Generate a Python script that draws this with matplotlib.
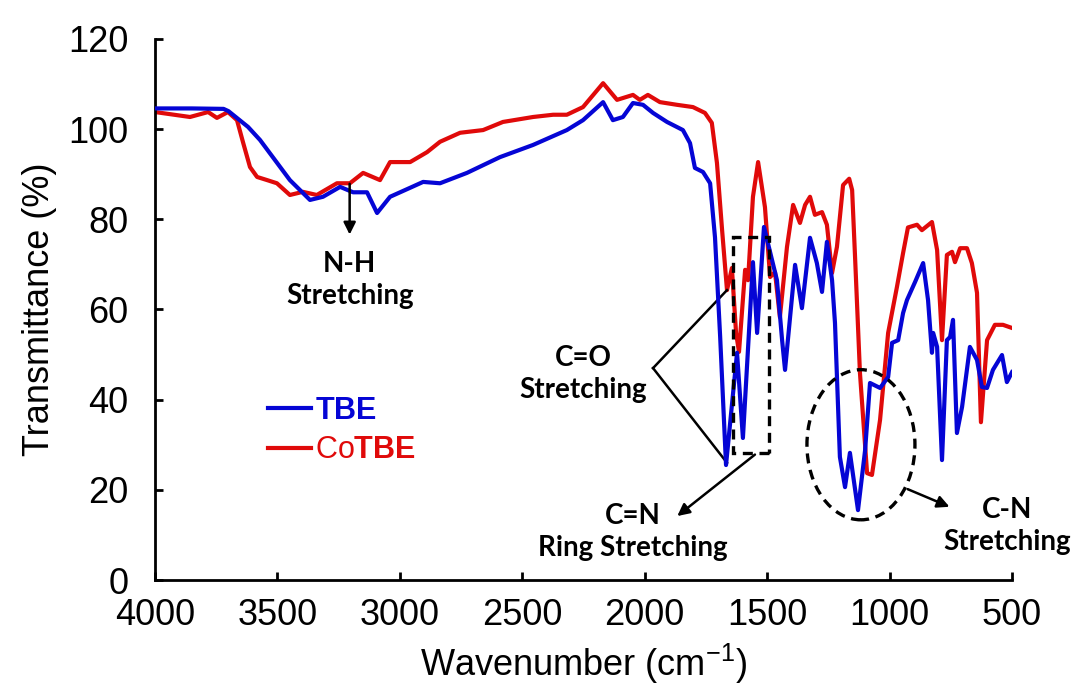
import matplotlib
matplotlib.use("Agg")
import matplotlib.pyplot as plt
from matplotlib.patches import Rectangle, Ellipse

# ## DATA ###################################################################### #

TBE_WN = [4000, 3850, 3720, 3700, 3620, 3571, 3449, 3367, 3314, 3244, 3191, 3134,
          3093, 3040, 2958, 2905, 2836, 2726, 2591, 2456, 2318, 2252, 2170, 2130,
          2089, 2048, 2007, 1966, 1909, 1844, 1815, 1795, 1762, 1733, 1713, 1692,
          1668, 1623, 1599, 1558, 1541, 1513, 1460, 1439, 1427, 1386, 1358, 1325,
          1297, 1276, 1256, 1235, 1223, 1203, 1182, 1162, 1129, 1100, 1080, 1039,
          1006, 990, 965, 945, 929, 896, 863, 843, 827, 822, 806, 786, 766, 753,
          741, 725, 704, 672, 643, 623, 602, 578, 541, 521, 500]
TBE_T = [104.6, 104.6, 104.5, 104.0, 100.5, 97.6, 88.7, 84.3, 85.0, 87.2, 86.0, 86.0,
         81.4, 85.0, 87.0, 88.3, 88.0, 90.3, 93.8, 96.5, 99.8, 102.0, 106.0, 102.0,
         102.7, 105.8, 105.4, 103.6, 101.6, 99.8, 96.9, 91.4, 90.5, 88.0, 76.0, 54.0,
         25.5, 50.4, 31.5, 70.5, 54.8, 78.3, 66.5, 53.2, 46.6, 69.9, 60.3, 75.9,
         70.3, 63.9, 75.0, 66.5, 57.0, 27.3, 20.6, 28.2, 15.5, 28.8, 43.7, 42.6,
         45.0, 52.6, 53.2, 59.2, 62.1, 66.1, 70.3, 62.1, 50.4, 54.8, 51.7, 26.6, 53.2, 53.9,
         57.7, 32.6, 38.4, 51.7, 48.8, 42.8, 42.6, 46.6, 49.9, 43.9, 46.1]

COTBE_WN = [4000, 3857, 3783, 3747, 3702, 3665, 3640, 3612, 3583, 3542, 3502, 3449,
            3396, 3339, 3257, 3204, 3150, 3081, 3040, 2958, 2889, 2836, 2754, 2660,
            2579, 2456, 2374, 2318, 2252, 2170, 2113, 2048, 2020, 1987, 1938, 1868,
            1803, 1754, 1726, 1705, 1684, 1664, 1644, 1627, 1615, 1590, 1578, 1558,
            1537, 1509, 1488, 1468, 1448, 1419, 1394, 1366, 1345, 1325, 1305, 1276,
            1256, 1235, 1215, 1190, 1165, 1153, 1141, 1121, 1092, 1072, 1039, 1006,
            970, 945, 925, 888, 868, 827, 806, 786, 766, 745, 733, 712, 684, 664,
            643, 627, 602, 570, 537, 500]
COTBE_T = [103.8, 102.7, 103.8, 102.5, 103.8, 102.0, 97.0, 91.6, 89.4, 88.7, 88.0, 85.4,
           86.1, 85.4, 88.0, 88.0, 90.3, 88.7, 92.7, 92.7, 94.9, 97.2, 99.2, 99.8,
           101.6, 102.7, 103.2, 103.2, 104.9, 110.2, 106.5, 107.6, 106.5, 107.6, 106.0, 105.4,
           104.9, 103.6, 101.4, 92.5, 77.6, 64.3, 69.2, 54.8, 50.6, 68.8, 66.5, 85.0,
           92.7, 82.7, 67.2, 68.3, 58.3, 73.9, 83.2, 79.2, 83.2, 85.0, 81.0, 81.6,
           78.8, 68.1, 73.9, 87.6, 89.0, 86.5, 71.6, 45.9, 23.7, 23.3, 35.5, 54.8,
           65.0, 72.5, 78.2, 78.8, 77.6, 79.4, 73.2, 53.2, 72.1, 72.8, 70.5, 73.6, 73.6, 70.3,
           63.7, 35.0, 53.2, 56.6, 56.6, 55.9]

X_TICKS = [4000, 3500, 3000, 2500, 2000, 1500, 1000, 500]
Y_TICKS = [0, 20, 40, 60, 80, 100, 120]

# ## STYLE ##################################################################### #

BLUE = "#0505D5"
RED = "#E00A0A"
NOTE_FONT = "Lato"

plt.rcParams.update({
    "font.family": ["Liberation Sans", "DejaVu Sans"],
    "mathtext.fontset": "custom",
    "mathtext.rm": "Liberation Sans",
    "mathtext.bf": "Liberation Sans:bold",
})

fig = plt.figure(figsize=(10.74, 6.89), dpi=100)
ax = fig.add_axes([0.1443, 0.1582, 0.7980, 0.7852])

ax.plot(TBE_WN, TBE_T, color=BLUE, lw=3.0, label=r"$\mathbf{TBE}$", zorder=3)
ax.plot(COTBE_WN, COTBE_T, color=RED, lw=3.0, label=r"Co$\mathbf{TBE}$", zorder=2)

ax.set_xlim(4000, 500)
ax.set_ylim(0, 120)
ax.set_xticks(X_TICKS)
ax.set_yticks(Y_TICKS)

for side in ("top", "right"):
    ax.spines[side].set_visible(False)
for side in ("left", "bottom"):
    ax.spines[side].set_linewidth(2.0)
ax.tick_params(axis="both", direction="in", length=6, width=2.0, labelsize=26)
ax.tick_params(axis="x", pad=13)
ax.tick_params(axis="y", pad=19)

ax.set_xlabel("Wavenumber (cm$^{\\mathrm{-1}}$)", fontsize=26, labelpad=6)
ax.set_ylabel("Transmittance (%)", fontsize=26, labelpad=8)

# legend with coloured labels
leg = ax.legend(loc="center left", bbox_to_anchor=(0.132, 0.276), frameon=False,
                fontsize=22, handlelength=1.4, handletextpad=0.15,
                labelspacing=0.3, borderpad=0, borderaxespad=0)
for txt, col in zip(leg.get_texts(), [BLUE, RED]):
    txt.set_color(col)

# band assignments
note = dict(fontsize=20, fontweight="bold", family=NOTE_FONT, ha="center",
            va="center", linespacing=1.3)
arrow = dict(arrowstyle="-|>", color="k", lw=1.8, mutation_scale=18)

ax.annotate("", xy=(3205, 76), xytext=(3205, 88.5), arrowprops=arrow)
ax.text(3205, 66.5, "N-H\nStretching", **note)

ax.plot([1966, 1664], [47, 64.3], color="k", lw=1.8)
ax.plot([1966, 1664], [47, 26.0], color="k", lw=1.8)
ax.text(2252, 45.7, "C=O\nStretching", **note)

ax.add_patch(Rectangle((1492, 28.2), 147, 47.9, fill=False, ec="k", lw=2.4,
                       ls=(0, (3, 2)), zorder=4))
ax.annotate("", xy=(1876, 13.8), xytext=(1541, 28.2), arrowprops=arrow)
ax.text(2048, 10.6, "C=N\nRing Stretching", **note)

ax.add_patch(Ellipse((1117, 30), 441, 33.3, fill=False, ec="k", lw=2.4,
                     ls=(0, (3, 2)), zorder=4))
ax.annotate("", xy=(745, 16), xytext=(937, 20.4), arrowprops=arrow)
ax.text(520, 12, "C-N\nStretching", clip_on=False, **note)

fig.savefig("out.png", dpi=100, facecolor="w")
